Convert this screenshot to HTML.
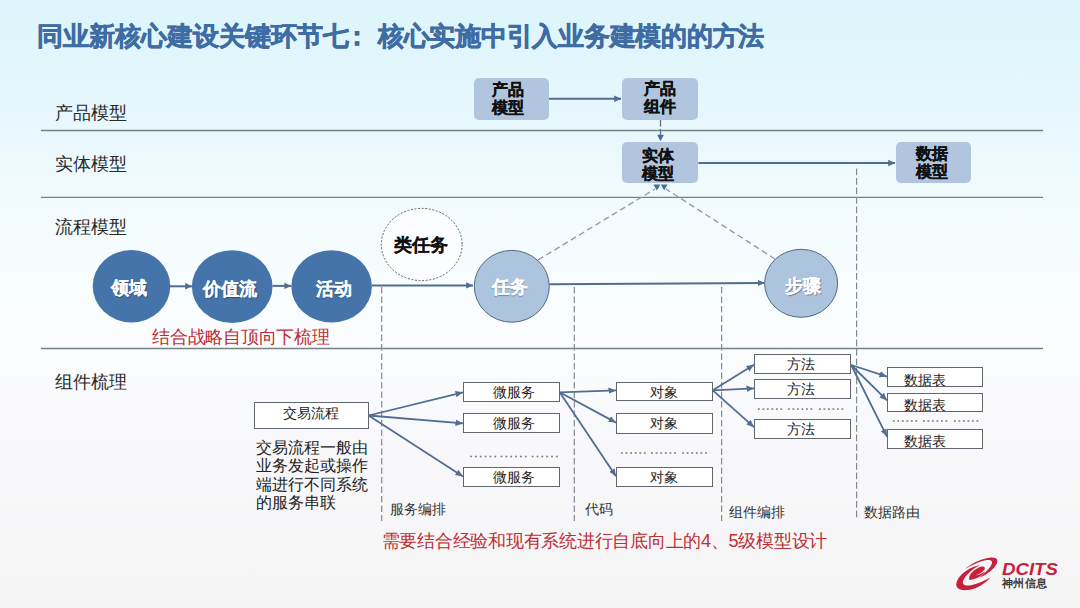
<!DOCTYPE html>
<html><head><meta charset="utf-8">
<style>
html,body{margin:0;padding:0;}
body{width:1080px;height:608px;overflow:hidden;position:relative;font-family:"Liberation Sans",sans-serif;
background:linear-gradient(180deg,#ddf5fc 0px,#e5f7fd 100px,#f1fbfd 200px,#f9fdfe 290px,#fbfcfd 360px,#f8f8fa 450px,#f5f5f6 608px);}
.t{position:absolute;white-space:nowrap;line-height:1;}
svg{position:absolute;left:0;top:0;}
#title,#title2,#title3{position:absolute;left:36.5px;top:22.5px;font-size:26px;font-weight:bold;color:#3e6ca3;-webkit-text-stroke:0.6px #3e6ca3;}
.lab{font-size:18px;color:#2a2a2a;}
.rb{position:absolute;background:#b1c6de;border-radius:5px;}
.bt{position:absolute;font-size:16px;font-weight:bold;color:#111;-webkit-text-stroke:0.35px #111;line-height:18px;text-align:center;white-space:nowrap;}
.ct{position:absolute;font-size:18px;font-weight:bold;color:#fff;-webkit-text-stroke:0.15px currentColor;text-shadow:0.8px 0.8px 1px rgba(20,30,50,0.45);white-space:nowrap;line-height:1;text-align:center;}
.sb{position:absolute;box-sizing:border-box;border:1.2px solid #62676f;background:#fff;}
.st{position:absolute;font-size:14px;color:#222;white-space:nowrap;line-height:1;text-align:center;}
.red{color:#bf2d35;font-size:18px;letter-spacing:-0.25px;}
</style></head><body>
<div class="t" id="title">同业新核心建设关键环节七</div>
<div class="t" id="title2" style="left:344px;">：</div>
<div class="t" id="title3" style="left:377.8px;letter-spacing:-0.24px;">核心实施中引入业务建模的的方法</div>

<div class="t lab" style="left:55px;top:104px;">产品模型</div>
<div class="t lab" style="left:55px;top:155.2px;">实体模型</div>
<div class="t lab" style="left:55px;top:218.3px;">流程模型</div>
<div class="t lab" style="left:55px;top:373.3px;">组件梳理</div>

<svg width="1080" height="608" viewBox="0 0 1080 608">
<defs>
<marker id="ah" markerWidth="8" markerHeight="8" refX="6.8" refY="4" orient="auto" markerUnits="userSpaceOnUse">
<path d="M0,0.8 L7,4 L0,7.2 Z" fill="#526d90"/></marker>
<marker id="ah2" markerWidth="8" markerHeight="8" refX="7.5" refY="4" orient="auto" markerUnits="userSpaceOnUse">
<path d="M0,0.8 L7.5,4 L0,7.2 Z" fill="#506d94"/></marker>
</defs>
<g stroke="#728387" stroke-width="1.3">
<line x1="41" y1="130.5" x2="1043" y2="130.5"/>
<line x1="41" y1="197.3" x2="1043" y2="197.3"/>
<line x1="41" y1="348.5" x2="1043" y2="348.5"/>
</g>
<!-- dashed verticals -->
<g stroke="#838a94" stroke-width="1.2" stroke-dasharray="6.6 2.9">
<line x1="381.7" y1="287" x2="381.7" y2="521"/>
<line x1="574.3" y1="287" x2="574.3" y2="521"/>
<line x1="721.6" y1="287" x2="721.6" y2="521"/>
<line x1="856.6" y1="168.6" x2="856.6" y2="520"/>
</g>
<!-- top arrows -->
<g stroke="#526d90" stroke-width="2" fill="none">
<line x1="549" y1="98.8" x2="621" y2="98.8" marker-end="url(#ah)"/>
<line x1="698.4" y1="163" x2="895" y2="163" marker-end="url(#ah)"/>
<line x1="170" y1="286.3" x2="192" y2="286.3" marker-end="url(#ah)"/>
<line x1="272.5" y1="285.9" x2="291.2" y2="285.9" marker-end="url(#ah)"/>
<line x1="372" y1="285.4" x2="473" y2="285.4" marker-end="url(#ah)"/>
<line x1="549.5" y1="284.3" x2="764.5" y2="282.9" marker-end="url(#ah)"/>
</g>
<line x1="660.5" y1="120" x2="660.5" y2="136" stroke="#5a6f86" stroke-width="1.3" stroke-dasharray="6.5 2.5"/>
<path d="M657.1,134.7 L663.9,134.7 L660.5,141.3 Z" fill="#4d6a90"/>
<!-- diagonal dashed -->
<g stroke="#959ca6" stroke-width="1.4" stroke-dasharray="6 3.6" fill="none">
<line x1="538" y1="260" x2="655" y2="189"/>
<line x1="775" y1="259" x2="666" y2="189"/>
</g>
<path d="M653.3,184.6 L660.4,184.6 L656.9,190.5 Z" fill="#4a7090"/>
<path d="M660.8,184.6 L667.5,184.6 L664.2,190.5 Z" fill="#4a7090"/>
<!-- circles -->
<ellipse cx="131.5" cy="286.2" rx="38.8" ry="36.3" fill="#4574aa"/>
<ellipse cx="232.2" cy="286.6" rx="40.3" ry="36.4" fill="#4574aa"/>
<ellipse cx="331.6" cy="286.4" rx="40.3" ry="36.2" fill="#4574aa"/>
<ellipse cx="421.7" cy="244.5" rx="40.4" ry="36.1" fill="#fbfdfe" stroke="#5d6268" stroke-width="1" stroke-dasharray="2 1.6"/>
<ellipse cx="511.8" cy="286.3" rx="37.5" ry="35.9" fill="#adc4de" stroke="#536884" stroke-width="1"/>
<ellipse cx="801.1" cy="283.3" rx="36.5" ry="34" fill="#adc4de" stroke="#536884" stroke-width="1"/>
<!-- bottom arrows -->
<g stroke="#506d94" stroke-width="1.8" fill="none">
<line x1="368.6" y1="415.5" x2="463" y2="392.3" marker-end="url(#ah2)"/>
<line x1="368.6" y1="415.5" x2="463" y2="423.4" marker-end="url(#ah2)"/>
<line x1="368.6" y1="415.5" x2="463" y2="476.4" marker-end="url(#ah2)"/>
<line x1="559.7" y1="392.3" x2="616" y2="390.4" marker-end="url(#ah2)"/>
<line x1="559.7" y1="392.3" x2="616" y2="422.6" marker-end="url(#ah2)"/>
<line x1="559.7" y1="392.3" x2="616" y2="476.3" marker-end="url(#ah2)"/>
<line x1="712.8" y1="390.3" x2="754" y2="364.7" marker-end="url(#ah2)"/>
<line x1="712.8" y1="390.3" x2="754" y2="388.4" marker-end="url(#ah2)"/>
<line x1="712.8" y1="390.3" x2="754" y2="427.2" marker-end="url(#ah2)"/>
<line x1="851.2" y1="365" x2="887" y2="376.6" marker-end="url(#ah2)"/>
<line x1="851.2" y1="365" x2="887" y2="400.4" marker-end="url(#ah2)"/>
<line x1="851.2" y1="365" x2="887" y2="436.6" marker-end="url(#ah2)"/>
</g>
</svg>

<!-- rounded boxes -->
<div class="rb" style="left:474px;top:78px;width:75px;height:41.6px;"></div>
<div class="rb" style="left:622px;top:78px;width:76.4px;height:41.6px;"></div>
<div class="rb" style="left:622px;top:142.3px;width:76.4px;height:41.1px;"></div>
<div class="rb" style="left:895.6px;top:142.2px;width:75.2px;height:41.3px;"></div>
<div class="bt" style="left:470px;top:81px;width:75px;">产品<br>模型</div>
<div class="bt" style="left:622px;top:80px;width:76px;">产品<br>组件</div>
<div class="bt" style="left:620px;top:146.5px;width:76px;">实体<br>模型</div>
<div class="bt" style="left:894px;top:144.7px;width:75px;">数据<br>模型</div>

<!-- circle texts -->
<div class="ct" style="left:93px;top:279px;width:72px;">领域</div>
<div class="ct" style="left:190px;top:280px;width:80px;">价值流</div>
<div class="ct" style="left:293.5px;top:279.5px;width:80px;">活动</div>
<div class="ct" style="left:381px;top:235.8px;width:80px;color:#111;-webkit-text-stroke:0.2px #111;text-shadow:none;">类任务</div>
<div class="ct" style="left:472px;top:278px;width:75px;">任务</div>
<div class="ct" style="left:766.5px;top:276.5px;width:73px;">步骤</div>

<div class="t red" style="left:152px;top:327.5px;">结合战略自顶向下梳理</div>

<!-- bottom boxes -->
<div class="sb" style="left:253.5px;top:402.4px;width:115px;height:26.7px;"></div>
<div class="st" style="left:253.5px;top:406px;width:115px;">交易流程</div>
<div class="t" style="left:256px;top:439px;font-size:16px;line-height:18.3px;color:#222;">交易流程一般由<br>业务发起或操作<br>端进行不同系统<br>的服务串联</div>

<div class="sb" style="left:463.3px;top:382.2px;width:96.6px;height:19.6px;"></div>
<div class="sb" style="left:463.3px;top:413.4px;width:96.6px;height:20.1px;"></div>
<div class="sb" style="left:463.3px;top:467.3px;width:96.6px;height:19.7px;"></div>
<div class="st" style="left:465.3px;top:384.5px;width:96.6px;">微服务</div>
<div class="st" style="left:465.3px;top:416px;width:96.6px;">微服务</div>
<div class="st" style="left:465.3px;top:469.5px;width:96.6px;">微服务</div>

<div class="sb" style="left:616.3px;top:381.5px;width:96.3px;height:19.6px;"></div>
<div class="sb" style="left:616.3px;top:413.4px;width:96.3px;height:20.2px;"></div>
<div class="sb" style="left:616.3px;top:467.2px;width:96.3px;height:19.8px;"></div>
<div class="st" style="left:616.3px;top:384.5px;width:96.3px;">对象</div>
<div class="st" style="left:616.3px;top:416px;width:96.3px;">对象</div>
<div class="st" style="left:616.3px;top:469.5px;width:96.3px;">对象</div>

<div class="sb" style="left:754.3px;top:354.2px;width:96.9px;height:20.1px;"></div>
<div class="sb" style="left:754.3px;top:379.4px;width:96.9px;height:19.8px;"></div>
<div class="sb" style="left:754.3px;top:419.1px;width:96.9px;height:20.3px;"></div>
<div class="st" style="left:752.8px;top:357px;width:96.9px;">方法</div>
<div class="st" style="left:752.8px;top:382px;width:96.9px;">方法</div>
<div class="st" style="left:752.8px;top:422px;width:96.9px;">方法</div>

<div class="sb" style="left:887.1px;top:367.3px;width:96.2px;height:19.9px;"></div>
<div class="sb" style="left:887.1px;top:392.5px;width:96.4px;height:19px;"></div>
<div class="sb" style="left:887.1px;top:428.7px;width:96.4px;height:19.9px;"></div>
<div class="st" style="left:879.6px;top:373px;width:90px;">数据表</div>
<div class="st" style="left:879.6px;top:398px;width:90px;">数据表</div>
<div class="st" style="left:879.6px;top:434px;width:90px;">数据表</div>

<svg width="1080" height="608" viewBox="0 0 1080 608"><g fill="#7d7f84"><rect x="470.10" y="455.70" width="1.8" height="1.6"/><rect x="474.95" y="455.70" width="1.8" height="1.6"/><rect x="479.80" y="455.70" width="1.8" height="1.6"/><rect x="484.65" y="455.70" width="1.8" height="1.6"/><rect x="489.50" y="455.70" width="1.8" height="1.6"/><rect x="494.35" y="455.70" width="1.8" height="1.6"/><rect x="500.60" y="455.70" width="1.8" height="1.6"/><rect x="505.45" y="455.70" width="1.8" height="1.6"/><rect x="510.30" y="455.70" width="1.8" height="1.6"/><rect x="515.15" y="455.70" width="1.8" height="1.6"/><rect x="520.00" y="455.70" width="1.8" height="1.6"/><rect x="524.85" y="455.70" width="1.8" height="1.6"/><rect x="531.70" y="455.70" width="1.8" height="1.6"/><rect x="536.55" y="455.70" width="1.8" height="1.6"/><rect x="541.40" y="455.70" width="1.8" height="1.6"/><rect x="546.25" y="455.70" width="1.8" height="1.6"/><rect x="551.10" y="455.70" width="1.8" height="1.6"/><rect x="555.95" y="455.70" width="1.8" height="1.6"/><rect x="621.00" y="452.20" width="1.8" height="1.6"/><rect x="625.60" y="452.20" width="1.8" height="1.6"/><rect x="630.20" y="452.20" width="1.8" height="1.6"/><rect x="634.80" y="452.20" width="1.8" height="1.6"/><rect x="639.40" y="452.20" width="1.8" height="1.6"/><rect x="644.00" y="452.20" width="1.8" height="1.6"/><rect x="651.10" y="452.20" width="1.8" height="1.6"/><rect x="655.70" y="452.20" width="1.8" height="1.6"/><rect x="660.30" y="452.20" width="1.8" height="1.6"/><rect x="664.90" y="452.20" width="1.8" height="1.6"/><rect x="669.50" y="452.20" width="1.8" height="1.6"/><rect x="674.10" y="452.20" width="1.8" height="1.6"/><rect x="682.10" y="452.20" width="1.8" height="1.6"/><rect x="686.70" y="452.20" width="1.8" height="1.6"/><rect x="691.30" y="452.20" width="1.8" height="1.6"/><rect x="695.90" y="452.20" width="1.8" height="1.6"/><rect x="700.50" y="452.20" width="1.8" height="1.6"/><rect x="705.10" y="452.20" width="1.8" height="1.6"/><rect x="757.90" y="408.30" width="1.8" height="1.6"/><rect x="762.40" y="408.30" width="1.8" height="1.6"/><rect x="766.90" y="408.30" width="1.8" height="1.6"/><rect x="771.40" y="408.30" width="1.8" height="1.6"/><rect x="775.90" y="408.30" width="1.8" height="1.6"/><rect x="780.40" y="408.30" width="1.8" height="1.6"/><rect x="788.00" y="408.30" width="1.8" height="1.6"/><rect x="792.50" y="408.30" width="1.8" height="1.6"/><rect x="797.00" y="408.30" width="1.8" height="1.6"/><rect x="801.50" y="408.30" width="1.8" height="1.6"/><rect x="806.00" y="408.30" width="1.8" height="1.6"/><rect x="810.50" y="408.30" width="1.8" height="1.6"/><rect x="819.00" y="408.30" width="1.8" height="1.6"/><rect x="823.50" y="408.30" width="1.8" height="1.6"/><rect x="828.00" y="408.30" width="1.8" height="1.6"/><rect x="832.50" y="408.30" width="1.8" height="1.6"/><rect x="837.00" y="408.30" width="1.8" height="1.6"/><rect x="841.50" y="408.30" width="1.8" height="1.6"/><rect x="892.90" y="420.20" width="1.8" height="1.6"/><rect x="897.40" y="420.20" width="1.8" height="1.6"/><rect x="901.90" y="420.20" width="1.8" height="1.6"/><rect x="906.40" y="420.20" width="1.8" height="1.6"/><rect x="910.90" y="420.20" width="1.8" height="1.6"/><rect x="915.40" y="420.20" width="1.8" height="1.6"/><rect x="923.00" y="420.20" width="1.8" height="1.6"/><rect x="927.50" y="420.20" width="1.8" height="1.6"/><rect x="932.00" y="420.20" width="1.8" height="1.6"/><rect x="936.50" y="420.20" width="1.8" height="1.6"/><rect x="941.00" y="420.20" width="1.8" height="1.6"/><rect x="945.50" y="420.20" width="1.8" height="1.6"/><rect x="954.00" y="420.20" width="1.8" height="1.6"/><rect x="958.50" y="420.20" width="1.8" height="1.6"/><rect x="963.00" y="420.20" width="1.8" height="1.6"/><rect x="967.50" y="420.20" width="1.8" height="1.6"/><rect x="972.00" y="420.20" width="1.8" height="1.6"/><rect x="976.50" y="420.20" width="1.8" height="1.6"/></g></svg>
<div class="t" style="left:390px;top:501.5px;font-size:14px;color:#333;">服务编排</div>
<div class="t" style="left:585px;top:501.5px;font-size:14px;color:#333;">代码</div>
<div class="t" style="left:729px;top:504.5px;font-size:14px;color:#333;">组件编排</div>
<div class="t" style="left:864px;top:504.5px;font-size:14px;color:#333;">数据路由</div>

<div class="t red" style="left:381.5px;top:531.5px;">需要结合经验和现有系统进行自底向上的4、5级模型设计</div>

<!-- logo -->
<svg width="1080" height="608" viewBox="0 0 1080 608">
<g fill="#c8203a">
<!-- lower thick crescent: from left (957,584) around bottom to tail (990,577) -->
<path d="M957.5,580 C954,587 958,591 968,590 C977,589 985,583.5 990.5,577.5 C983,581.5 975,585 969,585.5 C963,586 961.5,583.5 964,579 C967,574 973,568.5 980,565 C970,567 961,573 957.5,580 Z"/>
<!-- upper band: tail (965,568.6) to top (990,558) around right (997,562) down-left -->
<path d="M965,569 C972,563 983,558 991,557.5 C997,557 999,560 996,565 C993,570 986,575 979,578 C985,573 990,568 991.5,564.5 C993,561 991,559.5 987,560 C980,561 972,565 965,569 Z"/>
<!-- inner blob -->
<path d="M969.5,580 C968,576 972,571 978.5,567.5 C983,565.5 986,566.5 984.5,569.5 C983,572 979,574 975.5,575.5 C979.5,575 983,573 985,571 C983.5,575.5 977,579 969.5,580 Z"/>
</g>
</svg>
<div class="t" style="left:1001.5px;top:561.5px;font-size:15.8px;font-weight:bold;font-style:italic;color:#c8203a;transform:scaleX(1.18);transform-origin:0 0;">DCITS</div>
<div class="t" style="left:1001.5px;top:578px;font-size:11px;font-weight:bold;color:#3a3a3a;letter-spacing:0.5px;">神州信息</div>
</body></html>
